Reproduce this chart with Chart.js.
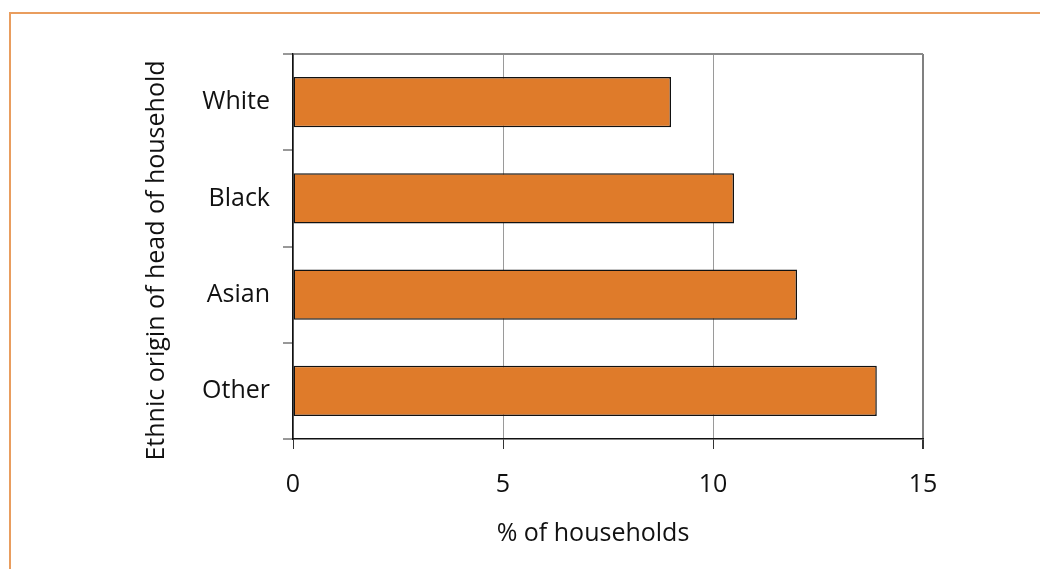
<!DOCTYPE html>
<html>
<head>
<meta charset="utf-8">
<script src="https://cdn.jsdelivr.net/npm/chart.js@4"></script>
<style>
    html, body { margin: 0; padding: 0; background: #fff; overflow: hidden; }
    #wrap { position: relative; width: 1040px; height: 569px; }
    #frame {
        position: absolute; left: 9px; top: 12px; right: -10px; bottom: -10px;
        border-top: 2px solid #E99D5E; border-left: 2px solid #E99D5E;
    }
    canvas { position: absolute; left: 0; top: 0; }
</style>
</head>
<body>
<div id="wrap">
    <div id="frame"></div>
    <canvas id="chart" width="1040" height="569"></canvas>
</div>
<script>
    const categories = ['White', 'Black', 'Asian', 'Other'];
    const shares = [9, 10.5, 12, 13.9];
    const xTicks = [0, 5, 10, 15];
    const xTitle = '% of households';
    const yTitle = 'Ethnic origin of head of household';

    const fontFamily = "'Open Sans', 'Noto Sans', sans-serif";
    const font = { family: fontFamily, size: 25 };

    // axis titles sit a little off-centre in the original, so draw them by hand
    const axisTitles = {
        id: 'axisTitles',
        afterDraw(chart) {
            const { ctx, chartArea } = chart;
            ctx.save();
            ctx.fillStyle = '#111';
            ctx.font = '25px ' + fontFamily;
            ctx.textAlign = 'center';
            ctx.textBaseline = 'middle';
            ctx.fillText(xTitle, (chartArea.left + chartArea.right) / 2 - 15, 534);
            ctx.translate(157, (chartArea.top + chartArea.bottom) / 2 + 14);
            ctx.rotate(-Math.PI / 2);
            ctx.fillText(yTitle, 0, 0);
            ctx.restore();
        }
    };

    new Chart(document.getElementById('chart'), {
        type: 'bar',
        data: {
            labels: categories,
            datasets: [{
                data: shares,
                backgroundColor: '#DF7B2A',
                borderColor: '#111',
                borderWidth: 1.5,
                borderSkipped: false,
                categoryPercentage: 0.52,
                barPercentage: 1
            }]
        },
        options: {
            indexAxis: 'y',
            responsive: false,
            animation: false,
            events: [],
            layout: { padding: { left: 143, top: 54, right: 117, bottom: 16 } },
            plugins: { legend: { display: false }, tooltip: { enabled: false } },
            scales: {
                x: {
                    min: 0,
                    max: 15,
                    afterBuildTicks: scale => { scale.ticks = xTicks.map(v => ({ value: v })); },
                    afterFit: scale => { scale.height = 114; },
                    border: { color: '#111', width: 1.5 },
                    grid: {
                        color: ctx => ctx.tick && ctx.tick.value === 15 ? '#808080' : '#9a9a9a',
                        lineWidth: ctx => ctx.tick && ctx.tick.value === 15 ? 2 : 1,
                        tickColor: '#333',
                        tickLength: 10
                    },
                    ticks: { color: '#111', font: font, padding: 21 }
                },
                y: {
                    afterFit: scale => { scale.width = 150; },
                    border: { color: '#111', width: 1.5 },
                    grid: {
                        offset: true,
                        color: ctx => ctx.index === 0 ? '#8a8a8a' : 'transparent',
                        lineWidth: 2,
                        tickColor: '#333',
                        tickWidth: 1,
                        tickLength: 10
                    },
                    ticks: { color: '#111', font: font, padding: 13 }
                }
            }
        },
        plugins: [axisTitles]
    });
</script>
</body>
</html>
